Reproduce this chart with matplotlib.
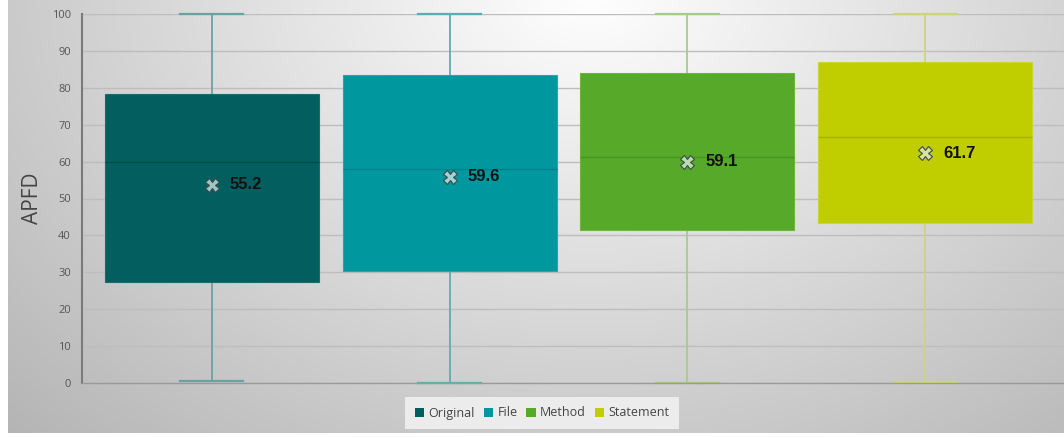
import numpy as np
import matplotlib
matplotlib.use("Agg")
import matplotlib.pyplot as plt
from matplotlib.patches import Patch

categories = ["Original", "File", "Method", "Statement"]
whisker_low = [0.5, 0.0, 0.0, 0.4]
q1 = [27.5, 30.4, 41.5, 43.3]
median = [59.9, 57.9, 61.3, 66.7]
q3 = [78.2, 83.5, 84.1, 86.9]
whisker_high = [100, 100, 100, 100]
mean_marker_y = [53.7, 55.9, 60.0, 62.3]
mean_labels = ["55.2", "59.6", "59.1", "61.7"]

box_colors = ["#035f5f", "#00979f", "#57a92a", "#c0ce00"]
median_colors = ["#024c4c", "#00808a", "#4a9424", "#a6b300"]
edge_colors = ["#1a6c6c", "#2aa3aa", "#6cb545", "#c9d43a"]
whisker_colors = ["#6aa2a3", "#5aaeb3", "#a5cd88", "#cbd67a"]
marker_face = ["#9fc4c4", "#a6d2d5", "#b9dcae", "#d9e3a0"]

W, H = 1064, 438
fig = plt.figure(figsize=(W / 100, H / 100), dpi=100)

# background gradient
bg = fig.add_axes([0, 0, 1, 1], zorder=-10)
yy, xx = np.mgrid[0:H, 0:W]
d = np.sqrt(((xx - 590) / 620.0) ** 2 + ((yy + 10) / 470.0) ** 2)
val = np.clip(1.0 - 0.22 * d, 0, 1)
img = np.dstack([val, val, val])
img[:, :8] = 1.0
img[433:, :] = 1.0
bg.imshow(img, extent=[0, W, H, 0], aspect="auto", interpolation="bilinear")
bg.set_xlim(0, W)
bg.set_ylim(H, 0)
bg.axis("off")

ax = fig.add_axes([82 / W, 55 / H, (W - 82) / W, 369 / H])
ax.patch.set_alpha(0)

stats = []
for i, c in enumerate(categories):
    stats.append(dict(label=c, whislo=whisker_low[i], q1=q1[i], med=median[i],
                      q3=q3[i], whishi=whisker_high[i], fliers=[]))

pos = np.arange(len(categories))
bp = ax.bxp(stats, positions=pos, widths=0.9, capwidths=0.265, patch_artist=True,
            showmeans=False, showfliers=False, manage_ticks=False)
for i in range(len(categories)):
    bp["boxes"][i].set_facecolor(box_colors[i])
    bp["boxes"][i].set_edgecolor(edge_colors[i])
    bp["boxes"][i].set_linewidth(0.8)
    bp["boxes"][i].set_zorder(3)
    bp["medians"][i].set_color(median_colors[i])
    bp["medians"][i].set_linewidth(1.0)
    bp["medians"][i].set_zorder(4)
    for k in (2 * i, 2 * i + 1):
        bp["whiskers"][k].set_color(whisker_colors[i])
        bp["whiskers"][k].set_linewidth(1.3)
        bp["caps"][k].set_color(whisker_colors[i])
        bp["caps"][k].set_linewidth(1.6)
        bp["caps"][k].set_clip_on(False)
        bp["whiskers"][k].set_clip_on(False)
    ax.plot(pos[i], mean_marker_y[i], marker="X", markersize=9.5,
            markerfacecolor=marker_face[i], markeredgecolor="#3a4a4a",
            markeredgewidth=0.8, zorder=5)
    ax.text(pos[i] + 0.075, mean_marker_y[i], mean_labels[i], fontsize=12,
            fontweight="bold", family="Liberation Sans", color="#111111",
            va="center", ha="left", zorder=6)

ax.set_xlim(-130 / 238, 3 + (W - 925) / 238)
ax.set_ylim(0, 100)
ax.set_yticks(np.arange(0, 101, 10))
ax.set_xticks([])
ax.tick_params(axis="y", length=0, pad=8, labelsize=8, labelcolor="#555555")
for lab in ax.get_yticklabels():
    lab.set_family("Open Sans")
ax.grid(axis="y", color="#bdbdbd", linewidth=1.0, zorder=0)
ax.set_axisbelow(True)
for s in ("top", "right"):
    ax.spines[s].set_visible(False)
ax.spines["left"].set_color("#7a7a7a")
ax.spines["left"].set_linewidth(1.5)
ax.spines["bottom"].set_color("#9a9a9a")
ax.spines["bottom"].set_linewidth(1.0)
ax.set_ylabel("APFD", fontsize=15, color="#444444", family="Open Sans", labelpad=6)

handles = [Patch(facecolor=c, edgecolor="none") for c in box_colors]
leg = fig.legend(handles, categories, loc="center", bbox_to_anchor=(542 / W, 1 - 413 / H),
                 ncol=4, frameon=True, handlelength=0.75, handleheight=0.75,
                 handletextpad=0.35, columnspacing=0.7, borderpad=0.75,
                 prop={"family": "Open Sans", "size": 9})
leg.get_frame().set_facecolor("#ececec")
leg.get_frame().set_edgecolor("none")
leg.get_frame().set_alpha(1)
leg.get_frame().set_boxstyle("square", pad=0)
for t in leg.get_texts():
    t.set_color("#444444")

fig.savefig("out.png", dpi=100)
